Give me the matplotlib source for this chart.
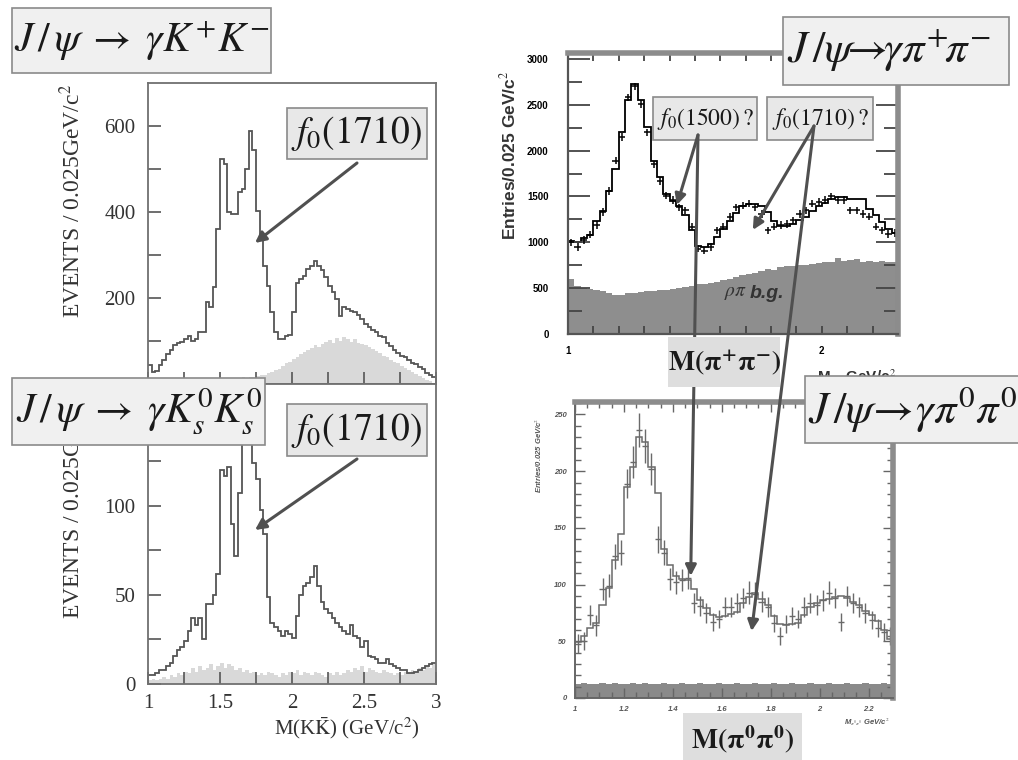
import matplotlib
matplotlib.use("Agg")
import matplotlib.pyplot as plt
from matplotlib.patches import Rectangle
from matplotlib.ticker import MultipleLocator, FixedLocator
from matplotlib.transforms import Bbox
import numpy as np

plt.rcParams['mathtext.fontset'] = 'stix'
plt.rcParams['font.family'] = ['Liberation Serif', 'DejaVu Serif']

# ---- J/psi -> gamma K+ K-  (0.025 GeV bins, 1.0 - 3.0)
kk_counts = [45, 28, 30, 45, 55, 70, 80, 90, 95, 98,
             105, 112, 100, 105, 120, 122, 190, 178, 225, 360,
             523, 512, 400, 395, 395, 446, 453, 500, 589, 545,
             403, 337, 275, 228, 167, 120, 105, 105, 112, 115,
             167, 236, 245, 252, 268, 275, 287, 275, 265, 248,
             228, 215, 198, 159, 178, 175, 170, 167, 160, 151,
             140, 132, 125, 120, 112, 109, 95, 88, 78, 72,
             66, 62, 55, 50, 47, 40, 35, 26, 22, 17]
kk_bg = [3, 4, 3, 5, 4, 5, 6, 5, 7, 6,
         8, 7, 9, 8, 10, 9, 11, 10, 12, 11,
         13, 12, 14, 13, 15, 14, 16, 15, 17, 16,
         18, 20, 22, 25, 28, 32, 36, 42, 48, 52,
         58, 62, 70, 74, 80, 84, 90, 86, 94, 98,
         102, 96, 108, 100, 110, 104, 98, 104, 96, 94,
         90, 86, 82, 76, 72, 66, 62, 56, 52, 48,
         42, 38, 32, 28, 24, 18, 14, 10, 6, 3]

# ---- J/psi -> gamma Ks Ks
ks_counts = [5, 5, 6, 8, 8, 10, 12, 16, 19, 21,
             24, 30, 37, 33, 37, 25, 45, 45, 50, 62,
             120, 117, 122, 90, 72, 107, 142, 175, 150, 124,
             115, 98, 84, 49, 34, 32, 30, 27, 30, 28,
             26, 38, 50, 55, 57, 60, 66, 55, 46, 42,
             40, 37, 34, 32, 30, 28, 33, 27, 26, 21,
             24, 16, 15, 14, 12, 12, 14, 11, 10, 9,
             8, 8, 6, 6, 7, 8, 9, 10, 11, 12]
ks_bg = [2, 3, 2, 3, 4, 3, 5, 4, 6, 5,
         7, 6, 9, 7, 10, 8, 9, 11, 8, 10,
         12, 9, 11, 10, 8, 9, 7, 8, 6, 7,
         5, 6, 5, 7, 6, 5, 4, 6, 5, 7,
         6, 8, 5, 7, 6, 5, 7, 6, 5, 4,
         6, 5, 7, 5, 6, 8, 7, 9, 8, 10,
         7, 9, 8, 7, 6, 8, 7, 6, 5, 6,
         5, 7, 6, 8, 7, 9, 8, 10, 9, 11]

# ---- J/psi -> gamma pi+ pi-  (0.025 GeV bins, 1.0 - 2.3)
pipi_fit = [1010, 1000, 1050, 1085, 1230, 1340, 1560, 1800, 2200, 2550,
            2730, 2550, 2260, 1890, 1710, 1530, 1450, 1400, 1300, 1130,
            960, 950, 980, 1060, 1150, 1230, 1320, 1400, 1420, 1420,
            1400, 1330, 1230, 1180, 1180, 1200, 1240, 1280, 1340, 1400,
            1430, 1470, 1490, 1490, 1475, 1470, 1470, 1360, 1300, 1220,
            1150, 1100]
pipi_data = [1000, 950, 1025, 1085, 1190, 1330, 1560, 1890, 2150, 2580,
             2700, 2510, 2200, 1850, 1670, 1510, 1460, 1380, 1350, 1170,
             930, 910, 950, 1130, 1170, 1280, 1380, 1400, 1420, 1380,
             1310, 1130, 1170, 1190, 1200, 1240, 1310, 1350, 1420, 1440,
             1460, 1500, 1460, 1460, 1350, 1350, 1310, 1280, 1170, 1130,
             1090, 1100]
rhopi_bg = [600, 520, 500, 490, 480, 470, 450, 430, 420, 445,
            450, 455, 465, 470, 480, 480, 490, 500, 510, 520,
            550, 545, 560, 570, 590, 600, 620, 640, 650, 670,
            690, 710, 700, 730, 740, 745, 750, 755, 760, 770,
            790, 780, 830, 800, 810, 815, 790, 800, 790, 795,
            790, 790]

# ---- J/psi -> gamma pi0 pi0
pi0_fit = [49, 55, 62, 66, 82, 97, 122, 145, 186, 204,
           230, 226, 204, 181, 131, 117, 108, 105, 104, 96,
           86, 79, 73, 71, 72, 74, 76, 84, 89, 93,
           87, 82, 72, 65, 64, 65, 66, 73, 80, 84,
           86, 87, 89, 90, 88, 85, 82, 77, 73, 68,
           60, 52]
pi0_data = [48, 50, 73, 64, 96, 99, 125, 128, 189, 208,
            236, 222, 202, 140, 128, 105, 102, 104, 106, 84,
            81, 75, 67, 70, 80, 80, 84, 88, 93, 92,
            85, 80, 66, 55, 65, 72, 70, 80, 84, 82,
            86, 93, 88, 67, 90, 84, 80, 75, 69, 62,
            58, 55]
pi0_err = [8, 8, 9, 9, 10, 10, 11, 11, 13, 14,
           15, 15, 14, 12, 11, 10, 10, 10, 10, 9,
           9, 9, 8, 8, 9, 9, 9, 9, 10, 10,
           9, 9, 8, 8, 8, 8, 8, 9, 9, 9,
           9, 10, 9, 8, 9, 9, 9, 9, 8, 8,
           8, 8]
pi0_bg = [12, 13, 12, 12, 13, 12, 13, 12, 12, 13,
          12, 13, 12, 12, 13, 12, 12, 13, 12, 12,
          13, 12, 12, 13, 12, 12, 13, 12, 12, 13,
          12, 12, 13, 12, 12, 13, 12, 12, 13, 12,
          12, 13, 12, 12, 13, 12, 12, 13, 12, 12,
          13, 12]

bin_w = 0.025
kk_edges = np.linspace(1.0, 3.0, len(kk_counts) + 1)
pp_edges = np.linspace(1.0, 2.3, len(pipi_fit) + 1)
pp_centers = 0.5 * (pp_edges[:-1] + pp_edges[1:])

W, H = 1018, 760
fig = plt.figure(figsize=(W / 100, H / 100), dpi=100)


def rect(l, t, r, b):
    return [l / W, 1 - b / H, (r - l) / W, (b - t) / H]


def fpx(x, y):
    # figure pixels measured from the top-left corner
    return (x, H - y)


def box(l, t, r, b, s, size, fc='#eeeeee', ec='#8a8a8a', lw=1.2,
        tx=None, ha='center', owner=None, z=5, **kw):
    host = fig if owner is None else owner
    patch = Rectangle((l / W, 1 - b / H), (r - l) / W, (b - t) / H,
                      transform=fig.transFigure, facecolor=fc,
                      edgecolor=ec, lw=lw, zorder=z, clip_on=False)
    if owner is None:
        fig.add_artist(patch)
    else:
        owner.add_artist(patch)
    x = (l + r) / 2 if tx is None else tx
    host.text(x / W, 1 - (t + b) / 2 / H, s, ha=ha, va='center',
              fontsize=size, zorder=z + 0.1, transform=fig.transFigure,
              clip_on=False, color='#1a1a1a', **kw)


def style_left(ax):
    for sp in ax.spines.values():
        sp.set_color('#707070')
        sp.set_linewidth(1.3)
    ax.tick_params(which='both', direction='in', top=False, right=False,
                   length=9, width=1.2, color='#555555',
                   labelsize=15, labelcolor='#333333', pad=9)


arrow_kw = dict(arrowstyle='-|>', color='#505050', lw=2.2,
                mutation_scale=16, shrinkA=0, shrinkB=0)

# ---------------- left top: K+ K-
ax1 = fig.add_axes(rect(148, 83, 436, 384))
ax1.stairs(kk_bg, kk_edges, fill=True, color='#d9d9d9', lw=0)
ax1.stairs(kk_counts, kk_edges, baseline=None, color='#555555', lw=1.3)
ax1.set_xlim(1, 3)
ax1.set_ylim(0, 700)
ax1.yaxis.set_major_locator(FixedLocator([200, 400, 600]))
ax1.yaxis.set_minor_locator(FixedLocator([100, 300, 500]))
ax1.xaxis.set_major_locator(MultipleLocator(0.25))
ax1.set_xticklabels([])
style_left(ax1)
ax1.annotate('', xy=(1.743, 328), xytext=fpx(357, 163),
             textcoords='figure pixels', arrowprops=arrow_kw,
             annotation_clip=False)

# ---------------- left bottom: Ks Ks
ax2 = fig.add_axes(rect(148, 384, 436, 684))
ax2.stairs(ks_bg, kk_edges, fill=True, color='#d9d9d9', lw=0)
ax2.stairs(ks_counts, kk_edges, baseline=None, color='#555555', lw=1.3)
ax2.set_xlim(1, 3)
ax2.set_ylim(0, 168.5)
ax2.yaxis.set_major_locator(FixedLocator([0, 50, 100]))
ax2.yaxis.set_minor_locator(FixedLocator([25, 75, 125, 150]))
ax2.xaxis.set_major_locator(FixedLocator([1, 1.5, 2, 2.5, 3]))
ax2.xaxis.set_minor_locator(FixedLocator([1.25, 1.75, 2.25, 2.75]))
ax2.set_xticklabels(['1', '1.5', '2', '2.5', '3'])
style_left(ax2)
ax2.tick_params(axis='x', pad=7)
ax2.annotate('', xy=(1.743, 86.5), xytext=fpx(357, 459),
             textcoords='figure pixels', arrowprops=arrow_kw,
             annotation_clip=False)

fig.text(72 / W, 1 - 201 / H, 'EVENTS / 0.025GeV/c$^2$', rotation=90,
         ha='center', va='center', fontsize=17, color='#333333')
# the lower label runs up under the reaction title, so only its foot shows
low_lab = fig.text(72 / W, 1 - 502 / H, 'EVENTS / 0.025GeV/c$^2$',
                   rotation=90, ha='center', va='center', fontsize=17,
                   color='#333333')
low_lab.set_clip_box(Bbox.from_extents(0, 0, 140, H - 446))
low_lab.set_clip_on(True)
fig.text(347 / W, 1 - 728 / H, r'M(K$\bar{\mathrm{K}}$) (GeV/c$^2$)',
         ha='center', va='center', fontsize=15, color='#333333')

# ---------------- right top: pi+ pi-
ax3 = fig.add_axes(rect(568, 53, 898, 334))
ax3.stairs(rhopi_bg, pp_edges, fill=True, color='#8e8e8e', lw=0)
ax3.stairs(pipi_fit, pp_edges, baseline=None, color='black', lw=1.3)
ax3.errorbar(pp_centers, pipi_data, yerr=40, xerr=bin_w / 2, fmt='none',
             ecolor='black', elinewidth=1.1)
ax3.set_xlim(1, 2.3)
ax3.set_ylim(0, 3065)
ax3.xaxis.set_major_locator(FixedLocator([1, 2]))
ax3.xaxis.set_minor_locator(MultipleLocator(0.1))
ax3.yaxis.set_major_locator(MultipleLocator(500))
ax3.yaxis.set_minor_locator(MultipleLocator(250))
ax3.tick_params(which='both', direction='in', top=True, right=True,
                color='#444444', width=1.3)
ax3.tick_params(axis='y', which='major', length=16, pad=14)
ax3.tick_params(axis='y', which='minor', length=10)
ax3.tick_params(axis='x', which='both', length=6, pad=9)
for lab in ax3.get_xticklabels() + ax3.get_yticklabels():
    lab.set_family('Liberation Sans')
    lab.set_fontweight('bold')
    lab.set_fontsize(7)
for side in ('top', 'right'):
    ax3.spines[side].set_color('#8c8c8c')
    ax3.spines[side].set_linewidth(4)
for side in ('left', 'bottom'):
    ax3.spines[side].set_color('#555555')
    ax3.spines[side].set_linewidth(1.6)
fig.text(508 / W, 1 - 155 / H, 'Entries/0.025 GeV/c$^2$', rotation=90,
         ha='center', va='center', fontsize=12.5, fontweight='bold',
         family='Liberation Sans', color='#333333')
ax3.text(1.705, 447, r'$\rho\pi$', ha='right', va='center', fontsize=14,
         color='#333333')
ax3.text(1.715, 447, 'b.g.', ha='left', va='center', fontsize=14,
         fontweight='bold', fontstyle='italic', family='Liberation Sans',
         color='#333333')
fig.text(857 / W, 1 - 377 / H, r'M$_{\pi\pi}$ GeV/c$^2$', ha='center',
         va='center', fontsize=11, fontweight='bold', family='Liberation Sans',
         color='#333333')

# question-mark labels sit under their arrows
box(653, 97, 757, 140, r'$f_0(1500)\,?$', 17, fc='#e8e8e8', owner=ax3, z=2.5)
box(767, 97, 873, 140, r'$f_0(1710)\,?$', 17, fc='#e8e8e8', owner=ax3, z=2.5)
ax3.annotate('', xy=(1.429, 1407), xytext=fpx(698, 135),
             textcoords='figure pixels', arrowprops=arrow_kw,
             annotation_clip=False, zorder=4)
ax3.annotate('', xy=(1.728, 1135), xytext=fpx(814, 126),
             textcoords='figure pixels', arrowprops=arrow_kw,
             annotation_clip=False, zorder=4)

# ---------------- right bottom: pi0 pi0
ax4 = fig.add_axes(rect(575, 402, 893, 698))
ax4.stairs(pi0_bg, pp_edges, fill=True, color='#8a8a8a', lw=0)
ax4.stairs(pi0_fit, pp_edges, baseline=None, color='#6a6a6a', lw=1.1)
ax4.errorbar(pp_centers, pi0_data, yerr=pi0_err, xerr=bin_w / 2, fmt='none',
             ecolor='#6a6a6a', elinewidth=1.0)
ax4.set_xlim(1, 2.3)
ax4.set_ylim(0, 261)
ax4.xaxis.set_major_locator(MultipleLocator(0.2))
ax4.xaxis.set_minor_locator(MultipleLocator(0.05))
ax4.yaxis.set_major_locator(MultipleLocator(50))
ax4.yaxis.set_minor_locator(MultipleLocator(10))
ax4.set_xticks([1, 1.2, 1.4, 1.6, 1.8, 2, 2.2])
ax4.set_xticklabels(['1', '1.2', '1.4', '1.6', '1.8', '2', '2.2'])
ax4.tick_params(which='both', direction='in', top=True, right=True,
                color='#666666', width=1.0)
ax4.tick_params(which='major', length=7, pad=6)
ax4.tick_params(which='minor', length=4)
for lab in ax4.get_xticklabels() + ax4.get_yticklabels():
    lab.set_family('Liberation Sans')
    lab.set_fontweight('bold')
    lab.set_fontstyle('italic')
    lab.set_fontsize(5.5)
    lab.set_color('#555555')
for side in ('top', 'right'):
    ax4.spines[side].set_color('#8c8c8c')
    ax4.spines[side].set_linewidth(4)
for side in ('left', 'bottom'):
    ax4.spines[side].set_color('#666666')
    ax4.spines[side].set_linewidth(1.4)
fig.text(538 / W, 1 - 455 / H, 'Entries/0.025 GeV/c$^2$', rotation=90,
         ha='center', va='center', fontsize=5.5, fontweight='bold',
         fontstyle='italic', family='Liberation Sans', color='#555555')
fig.text(867 / W, 1 - 722 / H, r'M$_{\pi^0\pi^0}$ GeV/c$^2$', ha='center',
         va='center', fontsize=5.5, fontweight='bold', fontstyle='italic',
         family='Liberation Sans', color='#555555')

# long arrows from the pi+ pi- labels down into the pi0 pi0 spectrum
ax4.annotate('', xy=(1.473, 107.6), xytext=fpx(698, 135),
             textcoords='figure pixels', arrowprops=arrow_kw,
             annotation_clip=False, zorder=4)
ax4.annotate('', xy=(1.722, 59), xytext=fpx(814, 126),
             textcoords='figure pixels', arrowprops=arrow_kw,
             annotation_clip=False, zorder=4)

# ---------------- reaction titles and resonance labels
box(12, 8, 271, 73, r'$J\,/\,\psi\;\rightarrow\;\gamma K^{+}K^{-}$', 30,
    fc='#f0f0f0')
box(12, 378, 265, 445, r'$J\,/\,\psi\;\rightarrow\;\gamma K_s^0K_s^0$', 30,
    fc='#f0f0f0')
box(287, 108, 427, 159, r'$f_0(1710)$', 27, fc='#e8e8e8')
box(287, 404, 427, 456, r'$f_0(1710)$', 27, fc='#e8e8e8')
box(783, 17, 1009, 85,
    r'$J\,/\psi\!\!\rightarrow\!\!\gamma\pi^{+}\!\pi^{-}$', 32,
    fc='#f0f0f0', tx=787, ha='left')
box(805, 376, 1070, 443,
    r'$J\,/\psi\!\rightarrow\!\gamma\pi^{0}\pi^{0}$', 32,
    fc='#f0f0f0', tx=808, ha='left')
box(668, 337, 780, 387, r'$\mathbf{M(\pi^{+}\pi^{-})}$', 20, fc='#dedede',
    ec='none')
box(683, 713, 802, 765, r'$\mathbf{M(\pi^{0}\pi^{0})}$', 20, fc='#dedede',
    ec='none')

fig.savefig('out.png', dpi=100)
